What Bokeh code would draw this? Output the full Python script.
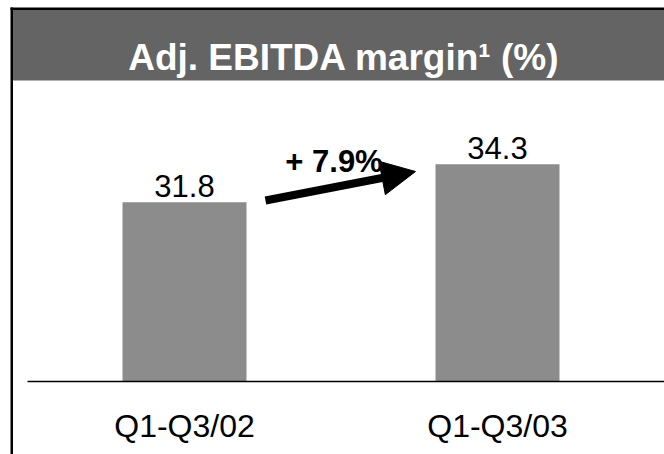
from bokeh.plotting import figure
from bokeh.models import Range1d, Label, BoxAnnotation, Arrow, NormalHead, ColumnDataSource
from bokeh.core.properties import value
from bokeh.embed import file_html
from bokeh.resources import INLINE

# ---- data ----
categories = ["Q1-Q3/02", "Q1-Q3/03"]
margins = [31.8, 34.3]
value_labels = ["31.8", "34.3"]
title_text = "Adj. EBITDA margin\u00b9 (%)"

# ---- layout ----
W, H = 664, 454
Y_MIN = 20.0
K = 15.2             # px per unit
X0_PX, DX_PX = 184.0, 313.0
BASE_PX = 381.0

XS = -X0_PX / DX_PX
XE = (W - X0_PX) / DX_PX
YS = Y_MIN - (H - BASE_PX) / K
YE = Y_MIN + BASE_PX / K

def dx(px):
    return XS + px / W * (XE - XS)

def dy(py):
    return YE - py / H * (YE - YS)

FONT = "Liberation Sans"

p = figure(width=W, height=H, output_backend="svg", toolbar_location=None,
           x_range=Range1d(XS, XE), y_range=Range1d(YS, YE),
           min_border=0, outline_line_color=None)
p.axis.visible = False
p.grid.visible = False
p.background_fill_color = "white"
p.border_fill_color = "white"

# title bar and frame border
p.add_layout(BoxAnnotation(left=dx(12), right=XE, top=dy(9), bottom=dy(80),
                           fill_color="#646464", fill_alpha=1, line_color=None,
                           line_alpha=0, level="underlay"))
p.add_layout(BoxAnnotation(left=dx(10), right=XE, top=dy(7), bottom=dy(9.5),
                           fill_color="black", fill_alpha=1, line_color=None, line_alpha=0))
p.add_layout(BoxAnnotation(left=dx(10), right=dx(12.5), top=dy(7), bottom=YS,
                           fill_color="black", fill_alpha=1, line_color=None, line_alpha=0))

p.add_layout(Label(x=dx(343.5), y=dy(57), text=title_text, text_align="center",
                   text_baseline="alphabetic", text_color="white", text_font=FONT,
                   text_font_size="37px", text_font_style="bold"))

src = ColumnDataSource(dict(x=list(range(len(categories))), top=margins,
                            lab=value_labels, cat=categories))

p.vbar(x="x", top="top", bottom=Y_MIN, width=124 / DX_PX, source=src,
       fill_color="#8c8c8c", line_color=None)

# baseline
p.segment(x0=dx(27), y0=Y_MIN, x1=XE, y1=Y_MIN, line_color="black", line_width=1.5)

p.text(x="x", y="top", text="lab", source=src, text_align="center",
       text_baseline="alphabetic", y_offset=-16, text_font=value(FONT),
       text_font_size="31px", text_color="black")

p.text(x="x", y=Y_MIN, text="cat", source=src, text_align="center",
       text_baseline="alphabetic", y_offset=44, text_font=value(FONT),
       text_font_size="32px", text_color="black")

# growth arrow
growth = (margins[1] - margins[0]) / margins[0] * 100
p.add_layout(Arrow(x_start=dx(265), y_start=dy(200), x_end=dx(415), y_end=dy(171),
                   line_width=8, line_color="black",
                   end=NormalHead(size=34, fill_color="black", line_color="black", line_width=1)))
p.add_layout(Label(x=dx(333.5), y=dy(161), text=f"+ {growth:.1f}%", text_align="center",
                   text_baseline="alphabetic", text_font=FONT, text_font_size="31px",
                   text_font_style="bold", text_color="black"))

open("out.html", "w").write(file_html(p, INLINE))
